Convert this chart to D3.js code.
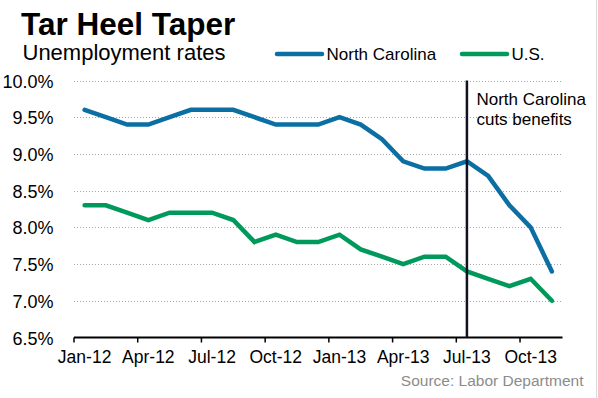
<!DOCTYPE html>
<html><head><meta charset="utf-8">
<script src="https://cdn.jsdelivr.net/npm/d3@7/dist/d3.min.js"></script>
<style>
html,body{margin:0;padding:0;background:#fff;}
svg{display:block;}
text{font-family:"Liberation Sans",Arial,sans-serif;}
</style></head>
<body>
<svg id="c" width="598" height="398"></svg>
<script>
const months = ["Jan-12","Feb-12","Mar-12","Apr-12","May-12","Jun-12","Jul-12","Aug-12","Sep-12","Oct-12","Nov-12","Dec-12",
"Jan-13","Feb-13","Mar-13","Apr-13","May-13","Jun-13","Jul-13","Aug-13","Sep-13","Oct-13","Nov-13"];
const northCarolina = [9.6,9.5,9.4,9.4,9.5,9.6,9.6,9.6,9.5,9.4,9.4,9.4,9.5,9.4,9.2,8.9,8.8,8.8,8.9,8.7,8.3,8.0,7.4];
const unitedStates = [8.3,8.3,8.2,8.1,8.2,8.2,8.2,8.1,7.8,7.9,7.8,7.8,7.9,7.7,7.6,7.5,7.6,7.6,7.4,7.3,7.2,7.3,7.0];
const yTicks = [6.5,7.0,7.5,8.0,8.5,9.0,9.5,10.0];
const xTickLabels = ["Jan-12","Apr-12","Jul-12","Oct-12","Jan-13","Apr-13","Jul-13","Oct-13"];
const eventMonth = "Jul-13";

(function(){
const svg = d3.select("#c");
const pL = 74, pR = 562.5, pT = 80.5, pB = 337.5;
const x = d3.scaleBand().domain(months).range([pL, pR]);
const xc = d => x(d) + x.bandwidth()/2;
const y = d3.scaleLinear().domain([6.5, 10]).range([pB, pT]);

// right edge border
svg.append("line").attr("x1",596.5).attr("x2",596.5).attr("y1",0).attr("y2",398)
  .attr("stroke","#d9d9d9").attr("stroke-width",1);

// gridlines
svg.append("g").selectAll("line").data(yTicks.filter(v=>v>6.5)).join("line")
  .attr("x1", pL).attr("x2", pR)
  .attr("y1", d=>Math.round(y(d))+0.5).attr("y2", d=>Math.round(y(d))+0.5)
  .attr("stroke","#a6a6a6").attr("stroke-width",1).attr("stroke-dasharray","1,2");

// y labels
svg.append("g").selectAll("text").data(yTicks).join("text")
  .attr("x", 53.5).attr("y", d=>y(d)+7)
  .attr("text-anchor","end").attr("font-size","18px").attr("fill","#000")
  .text(d=>d.toFixed(1)+"%");

// x axis
const xAxis = d3.axisBottom(x)
  .tickValues(xTickLabels)
  .tickSize(0).tickPadding(0);
const gx = svg.append("g").attr("transform",`translate(0,${pB})`).call(xAxis);
gx.select(".domain").remove();
gx.selectAll("text").attr("font-size","17.5px").attr("fill","#000")
  .attr("font-family","'Liberation Sans',Arial,sans-serif").attr("dy",null).attr("y",25.5);
svg.append("line").attr("x1",pL).attr("x2",pR).attr("y1",pB).attr("y2",pB)
  .attr("stroke","#000").attr("stroke-width",2);
svg.append("g").selectAll("line").data(xTickLabels).join("line")
  .attr("x1", d=>x(d)).attr("x2", d=>x(d))
  .attr("y1", pB).attr("y2", pB+5)
  .attr("stroke","#000").attr("stroke-width",1.5);

// lines
const line = d3.line().x((d,i)=>xc(months[i])).y(d=>y(d));
svg.append("path").datum(unitedStates).attr("d",line)
  .attr("fill","none").attr("stroke","#00995c").attr("stroke-width",4.5)
  .attr("stroke-linejoin","miter").attr("stroke-linecap","round");
svg.append("path").datum(northCarolina).attr("d",line)
  .attr("fill","none").attr("stroke","#0b6fa4").attr("stroke-width",4.5)
  .attr("stroke-linejoin","miter").attr("stroke-linecap","round");

// event line
svg.append("line").attr("x1",xc(eventMonth)).attr("x2",xc(eventMonth))
  .attr("y1",pT).attr("y2",pB)
  .attr("stroke","#111122").attr("stroke-width",2.5);
const ann = svg.append("text").attr("x",xc(eventMonth)+9.5).attr("y",105)
  .attr("font-size","17px").attr("fill","#000");
ann.append("tspan").attr("x",xc(eventMonth)+9.5).attr("y",105).text("North Carolina");
ann.append("tspan").attr("x",xc(eventMonth)+9.5).attr("y",125).text("cuts benefits");

// titles
svg.append("text").attr("x",21).attr("y",35).attr("font-size","31.5px").attr("font-weight","bold")
  .attr("fill","#000").text("Tar Heel Taper");
svg.append("text").attr("x",22.5).attr("y",60).attr("font-size","22px")
  .attr("fill","#000").text("Unemployment rates");

// legend
const legend = [{name:"North Carolina", color:"#0b6fa4", x:277},{name:"U.S.", color:"#00995c", x:462}];
const lg = svg.append("g").selectAll("g").data(legend).join("g");
lg.append("line").attr("x1",d=>d.x).attr("x2",d=>d.x+45).attr("y1",54).attr("y2",54)
  .attr("stroke",d=>d.color).attr("stroke-width",4.5).attr("stroke-linecap","round");
lg.append("text").attr("x",d=>d.x+49.5).attr("y",60).attr("font-size","17px").attr("fill","#000")
  .text(d=>d.name);

// source
svg.append("text").attr("x",583.5).attr("y",386).attr("text-anchor","end")
  .attr("font-family","'Open Sans',sans-serif").attr("font-size","15.5px").attr("fill","#8c8c8c")
  .text("Source: Labor Department");
})();
</script>
</body></html>
